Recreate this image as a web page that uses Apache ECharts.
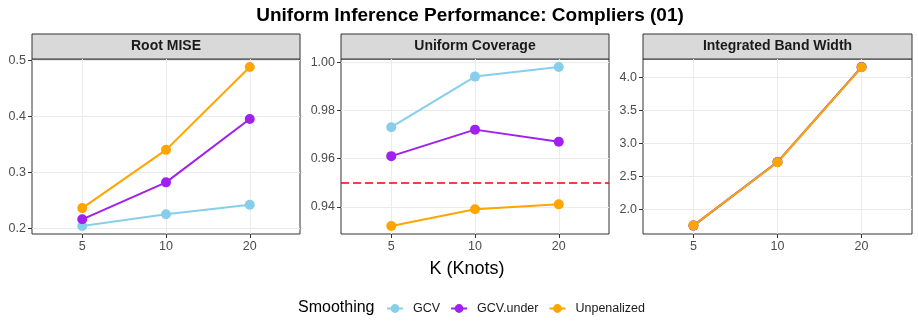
<!DOCTYPE html>
<html>
<head>
<meta charset="utf-8">
<script src="https://cdn.jsdelivr.net/npm/echarts@6/dist/echarts.min.js"></script>
<style>
  html, body { margin: 0; padding: 0; background: #fff; }
  #chart { width: 918px; height: 323px; }
</style>
</head>
<body>
<div id="chart"></div>
<script>
// data
var knots = ['5', '10', '20'];
var panelNames = ['Root MISE', 'Uniform Coverage', 'Integrated Band Width'];
var seriesNames = ['GCV', 'GCV.under', 'Unpenalized'];

var miseGCV = [0.204, 0.225, 0.242];
var miseUnder = [0.216, 0.282, 0.395];
var miseUnpen = [0.236, 0.340, 0.488];

var covGCV = [0.973, 0.994, 0.998];
var covUnder = [0.961, 0.972, 0.967];
var covUnpen = [0.932, 0.939, 0.941];

var bwGCV = [1.757, 2.720, 4.156];
var bwUnder = [1.757, 2.718, 4.154];
var bwUnpen = [1.758, 2.715, 4.150];

var nominalLevel = 0.95;

var yTicksMise = [0.2, 0.3, 0.4, 0.5];
var yTicksCov = [0.94, 0.96, 0.98, 1.00];
var yTicksBw = [2.0, 2.5, 3.0, 3.5, 4.0];

var colors = ['#87CEEB', '#A020F0', '#FFA500'];

// layout
var panels = [
    {left: 32, width: 268, data: [miseGCV, miseUnder, miseUnpen], ticks: yTicksMise, dec: 1, min: 0.1898, max: 0.5022},
    {left: 341, width: 268, data: [covGCV, covUnder, covUnpen], ticks: yTicksCov, dec: 2, min: 0.9287, max: 1.0013},
    {left: 643, width: 269, data: [bwGCV, bwUnder, bwUnpen], ticks: yTicksBw, dec: 1, min: 1.63, max: 4.276}
];
var panelTop = 59, panelHeight = 175;

var grids = [], xAxes = [], yAxes = [], series = [], graphics = [];

panels.forEach(function (p, i) {
    grids.push({
        left: p.left, top: panelTop, width: p.width, height: panelHeight,
        show: true, backgroundColor: '#fff', borderColor: '#333333', borderWidth: 1
    });
    xAxes.push({
        type: 'value', gridIndex: i, min: 0.4, max: 3.6,
        axisLine: {show: false, onZero: false},
        axisTick: {show: true, length: 4, customValues: [1, 2, 3], lineStyle: {color: '#333333'}},
        axisLabel: {
            customValues: [1, 2, 3], margin: 6, fontSize: 12.5, color: '#4D4D4D',
            fontFamily: 'Liberation Sans, Arial',
            formatter: function (v) { return knots[Math.round(v) - 1]; }
        },
        splitLine: {show: true, lineStyle: {color: '#EBEBEB', width: 1}}
    });
    yAxes.push({
        type: 'value', gridIndex: i, min: p.min, max: p.max,
        axisLine: {show: false, onZero: false},
        axisTick: {show: true, length: 4, customValues: p.ticks, lineStyle: {color: '#333333'}},
        axisLabel: {
            customValues: p.ticks, margin: 6, fontSize: 12.5, color: '#4D4D4D',
            fontFamily: 'Liberation Sans, Arial',
            formatter: (function (d) { return function (v) { return v.toFixed(d); }; })(p.dec)
        },
        splitLine: {show: true, lineStyle: {color: '#EBEBEB', width: 1}}
    });
    p.data.forEach(function (vals, k) {
        var s = {
            name: seriesNames[k], type: 'line', xAxisIndex: i, yAxisIndex: i,
            data: vals.map(function (v, j) { return [j + 1, v]; }),
            symbol: 'circle', symbolSize: 10,
            color: colors[k],
            lineStyle: {width: 2, color: colors[k]},
            itemStyle: {color: colors[k]},
            animation: false
        };
        // nominal 95% line in the coverage panel
        if (i === 1 && k === 0) {
            s.markLine = {
                silent: true, symbol: 'none', label: {show: false},
                lineStyle: {color: '#FF0000', type: [8, 4], width: 1.6},
                data: [{yAxis: nominalLevel}]
            };
        }
        series.push(s);
    });
    // strip on top of each panel
    graphics.push({
        type: 'rect', shape: {x: p.left, y: 34, width: p.width, height: 25},
        style: {fill: '#D9D9D9', stroke: '#333333', lineWidth: 1}
    });
    graphics.push({
        type: 'text', x: p.left + p.width / 2, y: 46.5,
        style: {text: panelNames[i], fill: '#1A1A1A', font: 'bold 14px Liberation Sans, Arial',
            textAlign: 'center', textVerticalAlign: 'middle'}
    });
});

graphics.push({
    type: 'text', x: 470, y: 15.5,
    style: {text: 'Uniform Inference Performance: Compliers (01)', fill: '#000',
        font: 'bold 19px Liberation Sans, Arial', textAlign: 'center', textVerticalAlign: 'middle'}
});
graphics.push({
    type: 'text', x: 467, y: 269,
    style: {text: 'K (Knots)', fill: '#000', font: '18px Liberation Sans, Arial',
        textAlign: 'center', textVerticalAlign: 'middle'}
});
graphics.push({
    type: 'text', x: 298, y: 308,
    style: {text: 'Smoothing', fill: '#000', font: '16px Liberation Sans, Arial',
        textAlign: 'left', textVerticalAlign: 'middle'}
});

var myChart = echarts.init(document.getElementById('chart'));
myChart.setOption({
    backgroundColor: '#fff',
    animation: false,
    grid: grids,
    xAxis: xAxes,
    yAxis: yAxes,
    legend: {
        data: seriesNames, left: 386, top: 302, orient: 'horizontal', padding: 0,
        itemWidth: 16, itemHeight: 11, itemGap: 10,
        textStyle: {fontSize: 12.5, color: '#1A1A1A', fontFamily: 'Liberation Sans, Arial', padding: [0, 0, 0, 5]}
    },
    graphic: graphics,
    series: series
});
</script>
</body>
</html>
